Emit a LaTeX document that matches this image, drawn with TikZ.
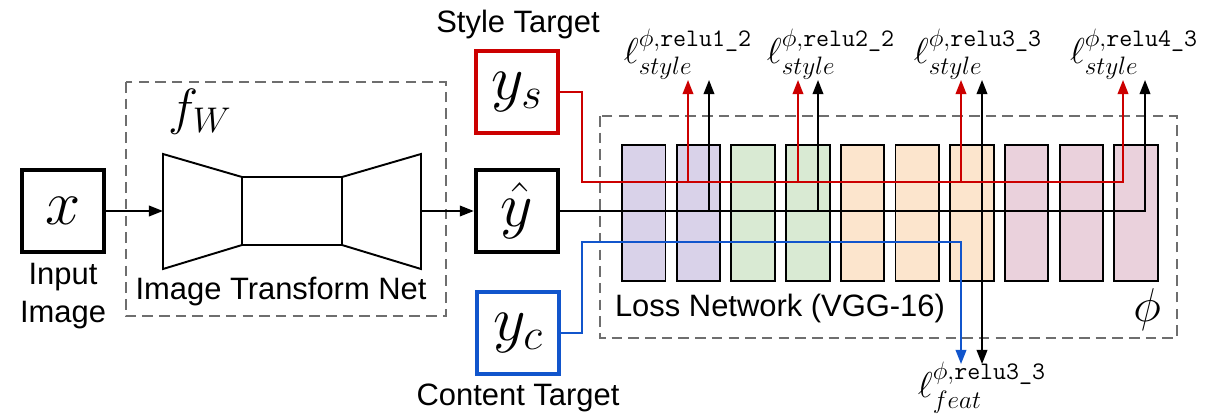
\RequirePackage{fix-cm}
\documentclass[tikz,border=0pt]{standalone}
\usepackage{amsmath}
\usepackage{fontspec}
\setmainfont{Liberation Sans}
\usepackage{xcolor}
\usetikzlibrary{arrows.meta, positioning, calc}

\definecolor{stylered}{HTML}{CC0000}
\definecolor{contentblue}{HTML}{1155CC}
\definecolor{framegray}{HTML}{6E6E6E}
\definecolor{vggpurple}{HTML}{D9D2E9}
\definecolor{vgggreen}{HTML}{D9EAD3}
\definecolor{vggorange}{HTML}{FCE5CD}
\definecolor{vggpink}{HTML}{EAD1DC}

\begin{document}
\begin{tikzpicture}[x=0.02cm, y=-0.02cm,
		caption/.style={font=\fontsize{17.6}{21.5}\selectfont, inner sep=0pt},
		imgbox/.style={draw, line width=2.5pt, minimum size=1.64cm, inner sep=0pt, font=\fontsize{36}{40}\selectfont},
		netframe/.style={draw=framegray, line width=1.3pt, dash pattern=on 6pt off 3.5pt},
		layer/.style={draw, line width=1.1pt, minimum width=0.87cm, minimum height=2.72cm, inner sep=0pt},
		wire/.style={line width=1.1pt},
		lossarrow/.style={-{Triangle[length=8pt, width=6pt]}},
		losslabel/.style={font=\fontsize{20.5}{24}\selectfont, inner sep=0pt}]
	\useasboundingbox (0,0) rectangle (1219,419);

	% dashed frames
	\draw[netframe] (126,82) rectangle (446,316);
	\draw[netframe] (600,116) rectangle (1177,338);

	% images
	\node[imgbox] (input) at (63,211) {$x$};
	\node[imgbox] (yhat) at (517,211) {$\hat{y}$};
	\node[imgbox, draw=stylered] (ys) at (517,92) {$y_s$};
	\node[imgbox, draw=contentblue] (yc) at (518,333) {$y_c$};

	% captions
	\node[caption, align=center] (inputcap) at (63,296) {Input\\Image};
	\node[caption] (netcap) at (281,292) {Image Transform Net};
	\node[caption] (stylecap) at (518,25) {Style Target};
	\node[caption] (contentcap) at (518,398) {Content Target};
	\node[caption] (losscap) at (780,308) {Loss Network (VGG-16)};
	\node[inner sep=0pt, font=\fontsize{29}{32}\selectfont] (fw) at (200,112) {$f_W$};
	\node[inner sep=0pt, font=\fontsize{27}{30}\selectfont] (phi) at (1147,310) {$\phi$};

	% transform net (encoder, bottleneck, decoder)
	\draw[wire] (163,154) -- (242,177) -- (242,245) -- (163,269) -- cycle;
	\draw[wire] (242,177) rectangle (342,245);
	\draw[wire] (342,177) -- (421,154) -- (421,269) -- (342,245) -- cycle;
	\coordinate (encin) at (163,211);
	\coordinate (decout) at (421,211);
	\draw[wire, lossarrow] (input.east) -- (encin);
	\draw[wire, lossarrow] (decout) -- (yhat.west);

	% VGG-16 layers
	\foreach \c [count=\i] in {vggpurple,vggpurple,vgggreen,vgggreen,vggorange,vggorange,vggorange,vggpink,vggpink,vggpink}
		\node[layer, fill=\c] (L\i) at ({589.05+54.7*\i},213) {};

	% loss labels
	\node[losslabel, anchor=south] (ls1) at (688,80) {$\ell^{\phi,\texttt{relu1\_2}}_{style}$};
	\node[losslabel, anchor=south] (ls2) at (831,80) {$\ell^{\phi,\texttt{relu2\_2}}_{style}$};
	\node[losslabel, anchor=south] (ls3) at (978,80) {$\ell^{\phi,\texttt{relu3\_3}}_{style}$};
	\node[losslabel, anchor=south] (ls4) at (1134,80) {$\ell^{\phi,\texttt{relu4\_3}}_{style}$};
	\node[losslabel, anchor=north] (lfeat) at (982,362) {$\ell^{\phi,\texttt{relu3\_3}}_{feat}$};

	% tap points
	\coordinate (r1) at (688,80);  \coordinate (b1) at (709,80);
	\coordinate (r2) at (798,80);  \coordinate (b2) at (818,80);
	\coordinate (r3) at (961,80);  \coordinate (b3) at (982,80);
	\coordinate (r4) at (1123,80); \coordinate (b4) at (1145,80);
	\coordinate (redbus) at (582,182);
	\coordinate (bluebus) at (582,242);
	\coordinate (f1) at (961,364);
	\coordinate (f2) at (982,364);

	% output wires
	\draw[wire, lossarrow] (yhat.east) -| (b4);
	\foreach \k in {1,2}
		\draw[wire, lossarrow] (yhat.east -| b\k) -- (b\k);
	\draw[wire, {Triangle[length=8pt, width=6pt]}-{Triangle[length=8pt, width=6pt]}] (f2) -- (b3);

	% style wires
	\draw[wire, stylered, lossarrow] (ys.east) -| (redbus) -| (r4);
	\foreach \k in {1,2,3}
		\draw[wire, stylered, lossarrow] (redbus -| r\k) -- (r\k);

	% content wire
	\draw[wire, contentblue, lossarrow] (yc.east) -| (bluebus) -| (f1);
\end{tikzpicture}
\end{document}
